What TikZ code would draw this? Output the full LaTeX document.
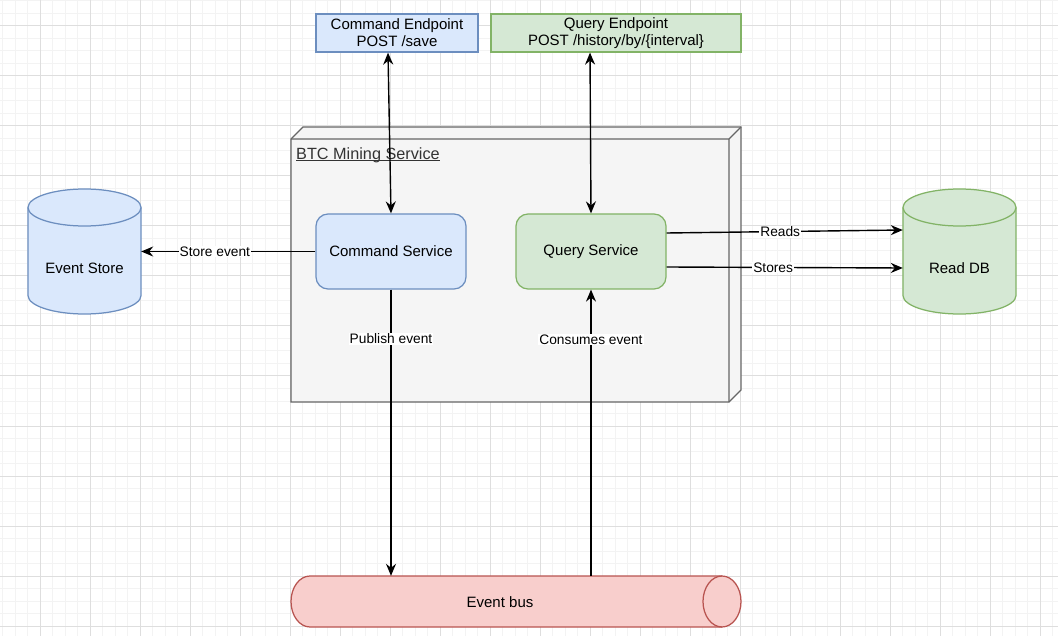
\documentclass[tikz,border=0pt]{standalone}
\usepackage{fontspec}
\setmainfont{Liberation Sans}
\usetikzlibrary{arrows.meta}
\definecolor{bluefill}{HTML}{DAE8FC}
\definecolor{bluedraw}{HTML}{6C8EBF}
\definecolor{greenfill}{HTML}{D5E8D4}
\definecolor{greendraw}{HTML}{82B366}
\definecolor{redfill}{HTML}{F8CECC}
\definecolor{reddraw}{HTML}{B85450}
\definecolor{greyfill}{HTML}{F5F5F5}
\definecolor{greydraw}{HTML}{666666}
\definecolor{labelgrey}{HTML}{333333}
\definecolor{gridminor}{HTML}{F3F3F3}
\definecolor{gridmajor}{HTML}{DEDEDE}
\begin{document}
\begin{tikzpicture}[x=1pt,y=-1pt,
  >={Stealth[length=12pt,width=10pt,inset=4pt]},
  base/.style={font=\fontsize{15}{17}\selectfont, inner sep=0pt, align=center},
  epbox/.style={base, draw, line width=1.25pt, minimum height=38pt},
  svcbox/.style={base, draw, line width=1.25pt, rounded corners=12pt, minimum width=150pt, minimum height=75pt},
  frame/.style={inner sep=0pt, minimum width=#1},
  conn/.style={line width=1.4pt, black},
  elabel/.style={font=\fontsize{13.75}{16}\selectfont, fill=white, inner sep=1pt},
  shapeline/.style={line width=1.25pt}
]
\useasboundingbox (0,0) rectangle (1058,636);
\fill[white] (0,0) rectangle (1058,636);
% grid
\foreach \i in {0,...,84} \draw[gridminor, line width=1pt] (2.5+12.5*\i,0) -- (2.5+12.5*\i,636);
\foreach \i in {0,...,50} \draw[gridminor, line width=1pt] (0,1+12.5*\i) -- (1058,1+12.5*\i);
\foreach \i in {0,...,20} \draw[gridmajor, line width=1pt] (40+50*\i,0) -- (40+50*\i,636);
\foreach \i in {0,...,12} \draw[gridmajor, line width=1pt] (0,26+50*\i) -- (1058,26+50*\i);

% BTC Mining Service 3D box
\draw[shapeline, greydraw, fill=greyfill] (291,139) -- (303,127) -- (741,127) -- (741,390) -- (729,402) -- (291,402) -- cycle;
\draw[shapeline, greydraw] (291,139) -- (729,139) -- (729,402) (729,139) -- (741,127);
\node[anchor=west, inner sep=0pt, font=\fontsize{16.25}{19}\selectfont, text=labelgrey] (btclabel) at (296,155) {BTC Mining Service};
\draw[labelgrey, line width=1pt] ([yshift=-1.8pt]btclabel.base west) -- ([yshift=-1.8pt]btclabel.base east);

% endpoints
\node[epbox, draw=bluedraw, fill=bluefill, minimum width=162pt] (cmdep) at (397,33) {Command Endpoint\\POST /save};
\node[epbox, draw=greendraw, fill=greenfill, minimum width=250pt] (qep) at (616,33) {Query Endpoint\\POST /history/by/\{interval\}};

% services
\node[svcbox, draw=bluedraw, fill=bluefill] (cmdsvc) at (391,251.5) {Command Service};
\node[svcbox, draw=greendraw, fill=greenfill] (qsvc) at (591,251.5) {Query Service};

% Event Store cylinder
\draw[shapeline, bluedraw, fill=bluefill] (28,207.5) -- (28,295.5)
  arc[start angle=180, end angle=360, x radius=56.5pt, y radius=18.5pt] -- (141,207.5)
  arc[start angle=0, end angle=180, x radius=56.5pt, y radius=18.5pt] -- cycle;
\draw[shapeline, bluedraw] (28,207.5) arc[start angle=180, end angle=360, x radius=56.5pt, y radius=18.5pt];
\node[frame=113pt, minimum height=125pt] (estore) at (84.5,251.5) {};
\node[base] (estoretext) at (84.5,268) {Event Store};

% Read DB cylinder
\draw[shapeline, greendraw, fill=greenfill] (903,207.5) -- (903,295.5)
  arc[start angle=180, end angle=360, x radius=56.5pt, y radius=18.5pt] -- (1016,207.5)
  arc[start angle=0, end angle=180, x radius=56.5pt, y radius=18.5pt] -- cycle;
\draw[shapeline, greendraw] (903,207.5) arc[start angle=180, end angle=360, x radius=56.5pt, y radius=18.5pt];
\node[frame=113pt, minimum height=125pt] (readdb) at (959.5,251.5) {};
\node[base] (readdbtext) at (959.5,268) {Read DB};

% Event bus horizontal cylinder
\draw[shapeline, reddraw, fill=redfill] (722,576) -- (310,576)
  arc[start angle=90, end angle=270, x radius=19pt, y radius=25.5pt] -- (722,627)
  arc[start angle=270, end angle=450, x radius=19pt, y radius=25.5pt] -- cycle;
\draw[shapeline, reddraw] (722,576) arc[start angle=90, end angle=270, x radius=19pt, y radius=25.5pt];
\node[frame=450pt, minimum height=51pt] (bus) at (516,601.5) {};
\node[base] (bustext) at (500,602) {Event bus};

% connectors
\draw[conn, <->] ([xshift=-9pt]cmdep.south) -- (cmdsvc.north);
\draw[conn, <->] ([xshift=-26pt]qep.south) -- (qsvc.north);
\draw[conn, ->] (cmdsvc.west) -- (estore.east) node[elabel, pos=0.577] {Store event};
\draw[conn, ->] ([yshift=18.5pt]qsvc.east) -- ([yshift=21.5pt]readdb.west) node[elabel, pos=0.481] {Reads};
\draw[conn, ->] ([yshift=-15.5pt]qsvc.east) -- ([yshift=-16.5pt]readdb.west) node[elabel, pos=0.451] {Stores};
\draw[conn, ->] (cmdsvc.south) -- (cmdsvc.south |- bus.north) node[elabel, pos=0.171] {Publish event};
\draw[conn, ->] (qsvc.south |- bus.north) -- (qsvc.south) node[elabel, pos=0.826] {Consumes event};
\end{tikzpicture}
\end{document}
